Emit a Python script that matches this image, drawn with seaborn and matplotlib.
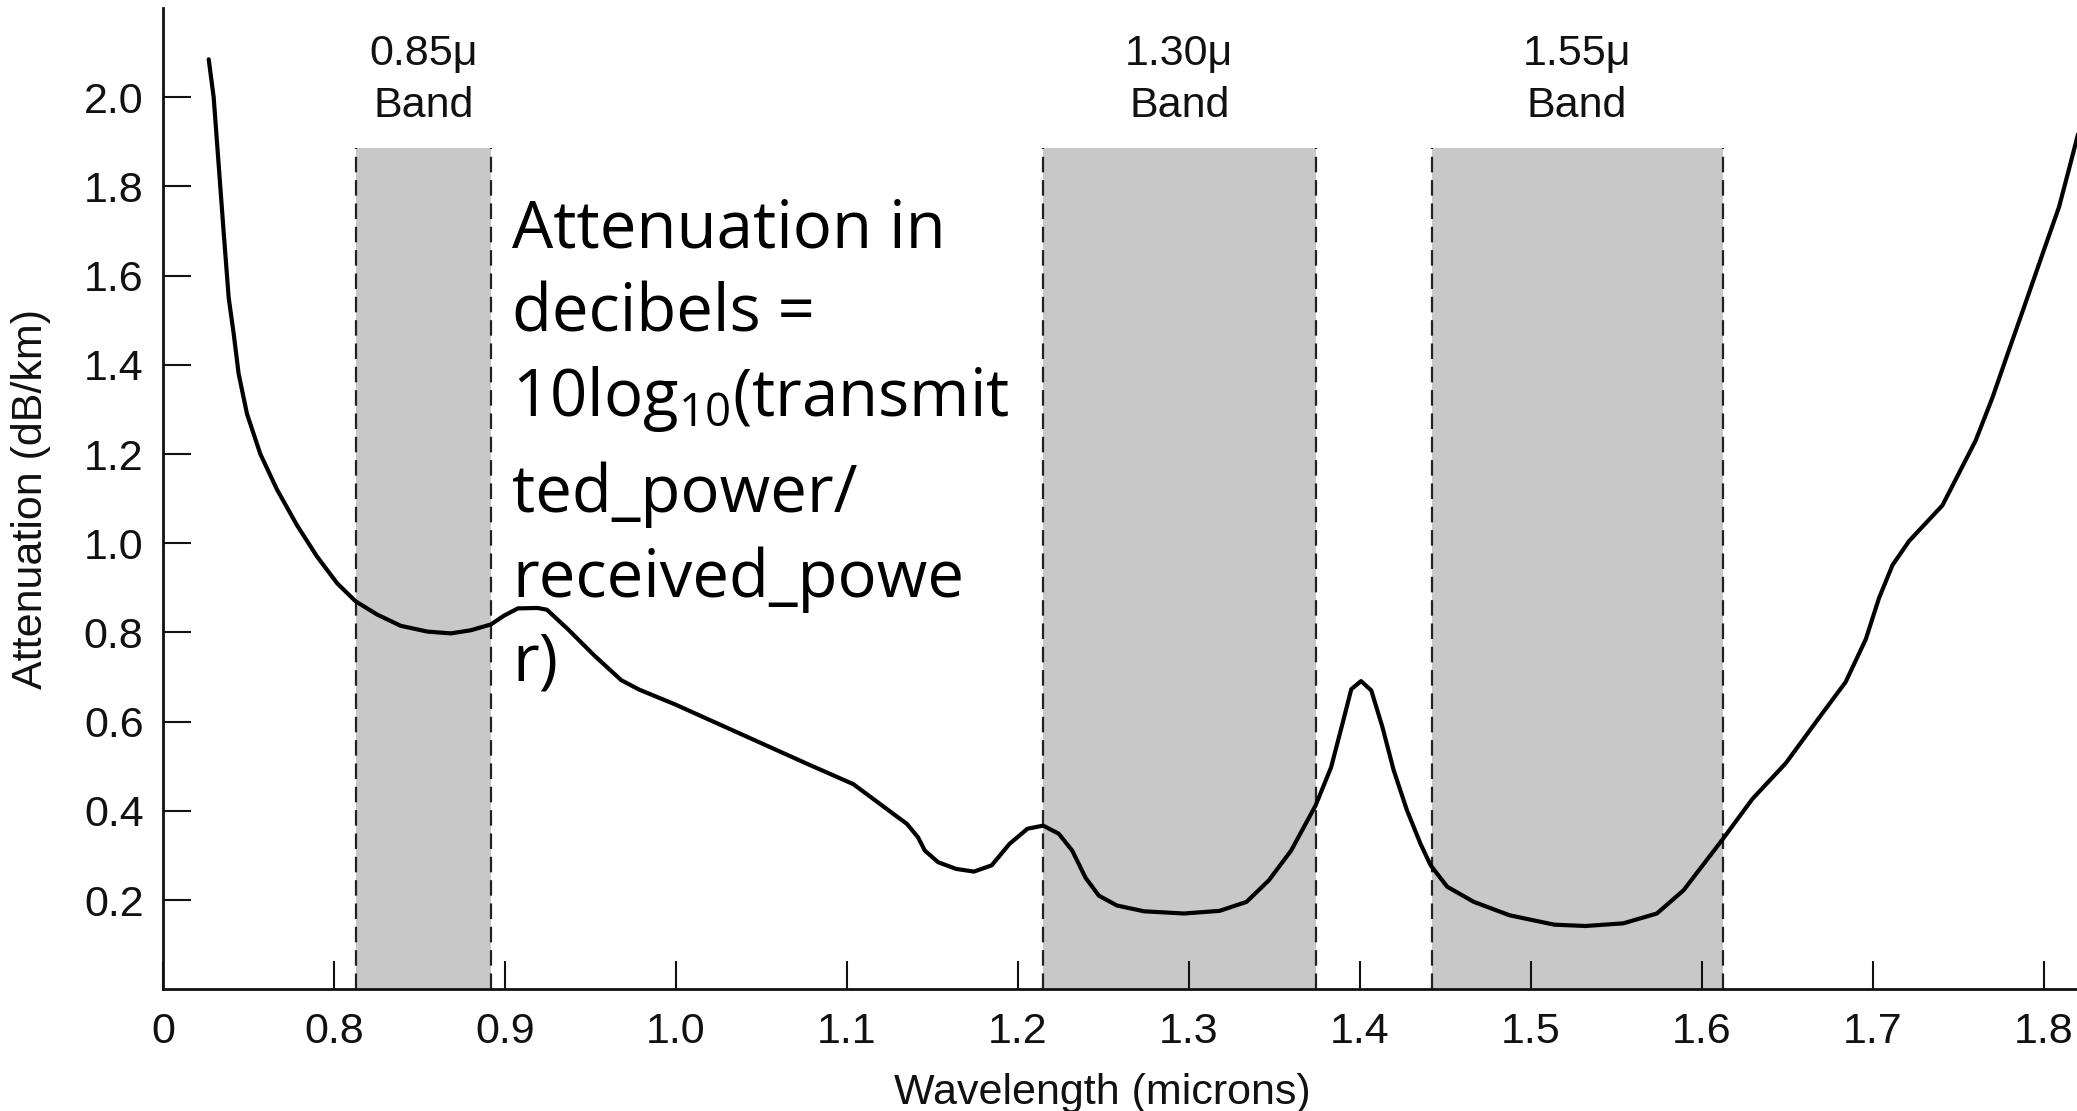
import matplotlib
matplotlib.use("Agg")
import matplotlib.pyplot as plt
import seaborn as sns
import numpy as np

# ---- data ----
wavelength = [0.7267, 0.7296, 0.7325, 0.7354, 0.7384, 0.7413, 0.7442, 0.7491, 0.7569, 0.7667,
              0.7784, 0.7901, 0.8019, 0.8126, 0.8253, 0.839, 0.8546, 0.8683, 0.880, 0.8917,
              0.8995, 0.9075, 0.919, 0.9245, 0.9366, 0.9523, 0.968, 0.9784, 0.9993, 1.0254,
              1.0515, 1.0776, 1.1037, 1.1272, 1.135, 1.1415, 1.1455, 1.1533, 1.1638, 1.1742,
              1.1846, 1.195, 1.2055, 1.2147, 1.2238, 1.2317, 1.2395, 1.2473, 1.2578, 1.2736,
              1.297, 1.3179, 1.3336, 1.3466, 1.3597, 1.374, 1.3831, 1.3897, 1.3949, 1.4006,
              1.4066, 1.4131, 1.4197, 1.4275, 1.4353, 1.4413, 1.451, 1.4666, 1.4875, 1.5136,
              1.5318, 1.554, 1.5736, 1.5892, 1.612, 1.6295, 1.649, 1.6685, 1.684, 1.6958,
              1.7035, 1.7114, 1.7211, 1.7406, 1.760, 1.7698, 1.7795, 1.7893, 1.799, 1.8088,
              1.8147, 1.8205]
attenuation = [2.085, 2.00, 1.85, 1.70, 1.55, 1.47, 1.38, 1.29, 1.20, 1.12,
               1.04, 0.97, 0.91, 0.87, 0.84, 0.815, 0.802, 0.798, 0.805, 0.818,
               0.838, 0.854, 0.855, 0.851, 0.808, 0.748, 0.693, 0.672, 0.639, 0.594,
               0.549, 0.504, 0.460, 0.393, 0.371, 0.341, 0.311, 0.285, 0.270, 0.264,
               0.278, 0.326, 0.360, 0.367, 0.349, 0.311, 0.250, 0.210, 0.188, 0.175,
               0.170, 0.176, 0.196, 0.244, 0.311, 0.412, 0.498, 0.595, 0.673, 0.691,
               0.670, 0.588, 0.491, 0.401, 0.327, 0.278, 0.230, 0.196, 0.166, 0.145,
               0.142, 0.148, 0.170, 0.222, 0.336, 0.427, 0.507, 0.609, 0.689, 0.785,
               0.877, 0.951, 1.005, 1.085, 1.230, 1.326, 1.433, 1.540, 1.647, 1.754,
               1.840, 1.926]

band_names = ["0.85\u03bc", "1.30\u03bc", "1.55\u03bc"]
band_lo = [0.8126, 1.2147, 1.442]
band_hi = [0.8917, 1.374, 1.612]
band_top = 1.887

xtick_vals = [0.7, 0.8, 0.9, 1.0, 1.1, 1.2, 1.3, 1.4, 1.5, 1.6, 1.7, 1.8]
xtick_labels = ["0", "0.8", "0.9", "1.0", "1.1", "1.2", "1.3", "1.4", "1.5", "1.6", "1.7", "1.8"]
ytick_vals = [0.2, 0.4, 0.6, 0.8, 1.0, 1.2, 1.4, 1.6, 1.8, 2.0]
ytick_labels = ["0.2", "0.4", "0.6", "0.8", "1.0", "1.2", "1.4", "1.6", "1.8", "2.0"]

note_lines = ["Attenuation in", "decibels =", "10log$_{\\mathrm{10}}$(transmit",
              "ted_power/", "received_powe", "r)"]

# ---- style ----
sns.set_theme(style="ticks")
plt.rcParams["font.family"] = ["Liberation Sans", "DejaVu Sans"]
plt.rcParams["mathtext.fontset"] = "custom"
plt.rcParams["mathtext.rm"] = "Open Sans"
plt.rcParams["mathtext.it"] = "Open Sans:italic"
plt.rcParams["mathtext.bf"] = "Open Sans:bold"

fig = plt.figure(figsize=(20.77, 11.11), dpi=100)
ax = fig.add_axes([0.0785, 0.1095, 0.9215, 0.8833])

# bands
for name, lo, hi in zip(band_names, band_lo, band_hi):
    ax.axvspan(lo, hi, ymin=0, ymax=band_top / 2.2, color="#c8c8c8", lw=0, zorder=0)
    ax.vlines([lo, hi], 0, band_top, colors="#222222", linestyles=(0, (7, 3.5)),
              linewidth=1.6, zorder=1)
    cx = (lo + hi) / 2
    ax.text(cx, 2.072, name, ha="center", va="baseline", fontsize=31, color="#111111")
    ax.text(cx, 1.955, "Band", ha="center", va="baseline", fontsize=31, color="#111111")

sns.lineplot(x=wavelength, y=attenuation, ax=ax, color="black", linewidth=3.0,
             zorder=3, estimator=None, solid_joinstyle="round", solid_capstyle="round")

# annotation
note_y = [1.664, 1.474, 1.285, 1.070, 0.880, 0.692]
for line, yy in zip(note_lines, note_y):
    ax.text(0.904, yy, line, ha="left", va="baseline", fontsize=47,
            family=["Open Sans", "DejaVu Sans"], color="black", zorder=4)

ax.set_xlim(0.7, 1.8193)
ax.set_ylim(0, 2.2)
ax.set_xticks(xtick_vals)
ax.set_xticklabels(xtick_labels)
ax.set_yticks(ytick_vals)
ax.set_yticklabels(ytick_labels)
ax.tick_params(direction="in", length=20, width=1.5, labelsize=31, colors="#111111", pad=14)
ax.tick_params(axis="x", pad=16)

for s in ["top", "right"]:
    ax.spines[s].set_visible(False)
for s in ["left", "bottom"]:
    ax.spines[s].set_linewidth(2.0)
    ax.spines[s].set_color("#111111")

ax.set_xlabel("Wavelength (microns)", fontsize=31, color="#111111", labelpad=8)
ax.set_ylabel("Attenuation (dB/km)", fontsize=31, color="#111111", labelpad=24)
ax.xaxis.set_label_coords(0.491, -0.085)

fig.savefig("out.png", dpi=100)
